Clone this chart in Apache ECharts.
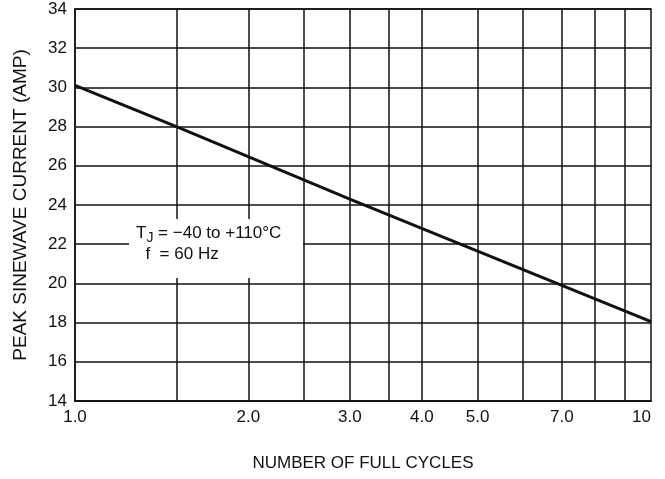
<!DOCTYPE html>
<html>
<head>
<meta charset="utf-8">
<script src="https://cdn.jsdelivr.net/npm/echarts@6/dist/echarts.min.js"></script>
<style>
  html, body { margin: 0; padding: 0; background: #fff; }
  #chart { width: 665px; height: 479px; }
</style>
</head>
<body>
<div id="chart"></div>
<script>
// readings
const cycles = [1, 1.5, 3, 7, 10]
const current = [30.1, 28.0, 24.3, 19.9, 18.05]

// vertical grid lines and labelled ticks on the log axis
const gridCycles = [1.5, 2, 2.5, 3, 3.5, 4, 5, 6, 7, 8, 9]
const tickLabels = [1, 2, 3, 4, 5, 7, 10]

const FONT = '"Liberation Sans", Arial, sans-serif'
const INK = '#111'

const chart = echarts.init(document.getElementById('chart'))

chart.setOption({
  animation: false,
  backgroundColor: '#fff',
  grid: {
    left: 75, right: 14, top: 9, bottom: 78,
    outerBoundsMode: 'none',
    containLabel: false,
    show: true, borderColor: INK, borderWidth: 1.5
  },
  xAxis: {
    type: 'log',
    logBase: 10,
    min: 1,
    max: 10,
    name: 'NUMBER OF FULL CYCLES',
    nameLocation: 'middle',
    nameGap: 54,
    nameTextStyle: { fontFamily: FONT, fontSize: 17, color: INK },
    axisLine: { show: true, lineStyle: { color: INK, width: 1.5 } },
    axisTick: { show: false },
    splitLine: { show: false },
    minorSplitLine: { show: false },
    axisLabel: {
      customValues: tickLabels,
      formatter: (v) => (v >= 10 ? '10' : Number(v).toFixed(1)),
      fontFamily: FONT,
      fontSize: 17,
      color: INK,
      margin: 8,
      alignMaxLabel: 'right'
    }
  },
  yAxis: {
    type: 'value',
    min: 14,
    max: 34,
    interval: 2,
    name: 'PEAK SINEWAVE CURRENT (AMP)',
    nameLocation: 'middle',
    nameGap: 45,
    nameTextStyle: { fontFamily: FONT, fontSize: 19, color: INK },
    axisLine: { show: true, lineStyle: { color: INK, width: 1.5 } },
    axisTick: { show: false },
    splitLine: { show: true, lineStyle: { color: INK, width: 1.5 } },
    axisLabel: { fontFamily: FONT, fontSize: 17, color: INK, margin: 8 }
  },
  series: [
    {
      type: 'line',
      data: cycles.map((c, i) => [c, current[i]]),
      symbol: 'none',
      lineStyle: { color: INK, width: 3 },
      z: 5,
      markLine: {
        silent: true,
        symbol: 'none',
        label: { show: false },
        lineStyle: { color: INK, width: 1.5, type: 'solid' },
        data: gridCycles.map((c) => ({ xAxis: c }))
      }
    }
  ],
  graphic: [
    {
      type: 'rect',
      shape: { x: 129, y: 219, width: 174, height: 59 },
      style: { fill: '#fff' },
      z: 100
    },
    {
      type: 'text',
      x: 136,
      y: 223,
      z: 101,
      style: {
        text: '{t|T}{s|J}{t| = \u221240 to +110\u00b0C}\n{t|  f  = 60 Hz}',
        rich: {
          t: { fontFamily: FONT, fontSize: 17, fill: INK, lineHeight: 21 },
          s: { fontFamily: FONT, fontSize: 14, fill: INK, padding: [10, 0, 0, 0], lineHeight: 21 }
        }
      }
    }
  ]
})
</script>
</body>
</html>
